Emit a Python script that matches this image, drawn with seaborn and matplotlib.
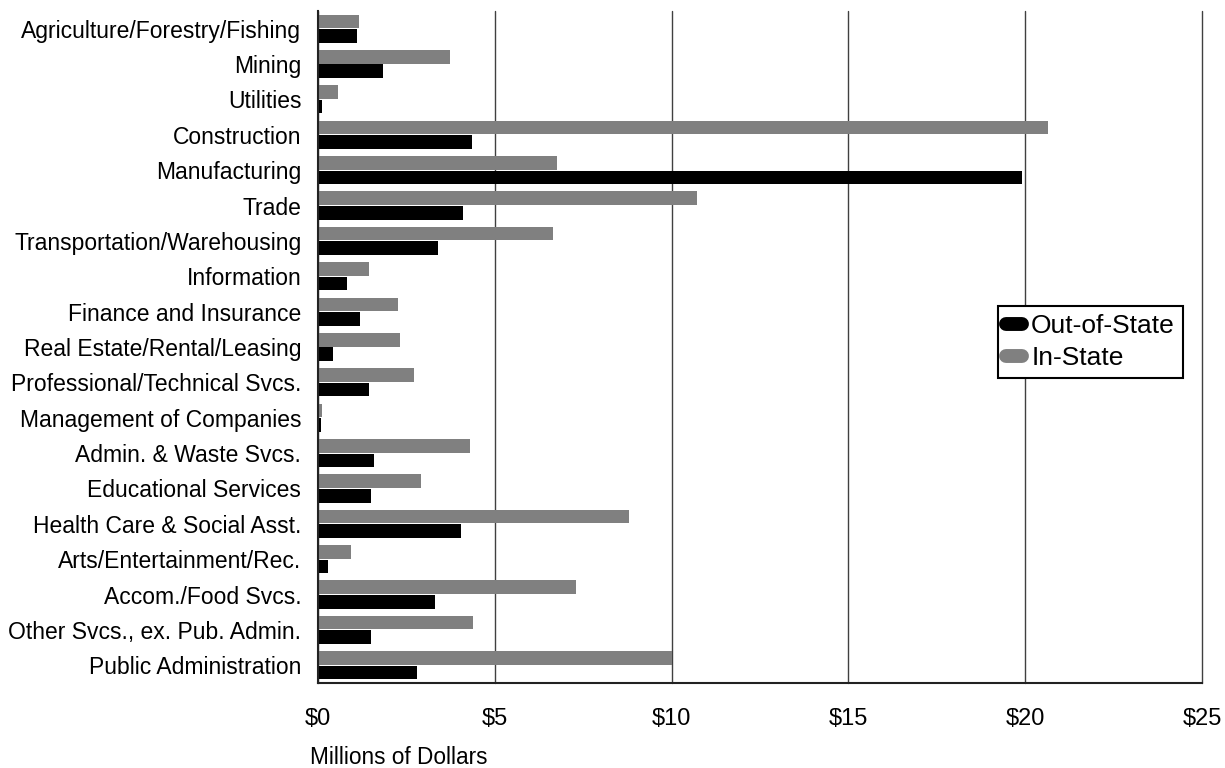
import pandas as pd
import numpy as np
import matplotlib.pyplot as plt
import seaborn as sns
from matplotlib.lines import Line2D

industries = [
    'Agriculture/Forestry/Fishing', 'Mining', 'Utilities', 'Construction',
    'Manufacturing', 'Trade', 'Transportation/Warehousing', 'Information',
    'Finance and Insurance', 'Real Estate/Rental/Leasing',
    'Professional/Technical Svcs.', 'Management of Companies',
    'Admin. & Waste Svcs.', 'Educational Services',
    'Health Care & Social Asst.', 'Arts/Entertainment/Rec.',
    'Accom./Food Svcs.', 'Other Svcs., ex. Pub. Admin.', 'Public Administration',
]
in_state = [1.16, 3.74, 0.57, 20.65, 6.76, 10.73, 6.65, 1.44, 2.26, 2.32,
            2.72, 0.11, 4.30, 2.92, 8.80, 0.93, 7.30, 4.39, 10.0]
out_of_state = [1.10, 1.84, 0.11, 4.36, 19.90, 4.10, 3.40, 0.82, 1.19, 0.42,
                1.44, 0.08, 1.58, 1.50, 4.05, 0.28, 3.31, 1.50, 2.80]
x_ticks = [0, 5, 10, 15, 20, 25]
x_tick_labels = ['$0', '$5', '$10', '$15', '$20', '$25']

df = pd.DataFrame({
    'industry': industries * 2,
    'value': in_state + out_of_state,
    'tipo': ['In-State'] * len(industries) + ['Out-of-State'] * len(industries),
})

sns.set_style('white')
plt.rcParams['font.family'] = ['Liberation Sans', 'DejaVu Sans']
plt.rcParams['text.color'] = 'black'

fig, ax = plt.subplots(figsize=(12.25, 7.68), dpi=100)
fig.subplots_adjust(left=0.2596, right=0.9812, top=0.9857, bottom=0.1107)

sns.barplot(data=df, x='value', y='industry', hue='tipo',
            hue_order=['In-State', 'Out-of-State'],
            palette=['#808080', '#000000'], orient='h',
            width=0.82, gap=0.06, saturation=1, linewidth=0,
            legend=False, ax=ax)

ax.set_xlim(0, 25)
ax.set_xticks(x_ticks)
ax.set_xticklabels(x_tick_labels)
ax.set_xlabel('')
ax.set_ylabel('')
ax.xaxis.grid(True, color='#404040', linewidth=1.0)
ax.yaxis.grid(False)
for gl in ax.get_xgridlines():
    gl.set_zorder(0.5)
    gl.set_clip_on(False)
for s in ['top', 'right']:
    ax.spines[s].set_visible(False)
for s in ['left', 'bottom']:
    ax.spines[s].set_color('#222222')
    ax.spines[s].set_linewidth(1.5)
ax.tick_params(axis='y', length=0, pad=12, labelsize=16.5, colors='black')
ax.tick_params(axis='x', length=0, pad=18, labelsize=17, colors='black')

# legend: Out-of-State listed first, as in the original
handles = [Line2D([0], [0], color='#000000', lw=10, solid_capstyle='round'),
           Line2D([0], [0], color='#808080', lw=10, solid_capstyle='round')]
leg = ax.legend(handles, ['Out-of-State', 'In-State'],
                loc='center left', bbox_to_anchor=(0.7545, 0.507),
                fontsize=19, frameon=True, fancybox=False,
                edgecolor='black', handlelength=0.6, handletextpad=0.35,
                borderpad=0.3, labelspacing=0.3, labelcolor='black')
leg.get_frame().set_linewidth(1.5)
leg.get_frame().set_alpha(1)

fig.text(310 / 1225, 1 - 757 / 768, 'Millions of Dollars', fontsize=16.3,
         ha='left', va='center')

plt.savefig('out.png', dpi=100)
